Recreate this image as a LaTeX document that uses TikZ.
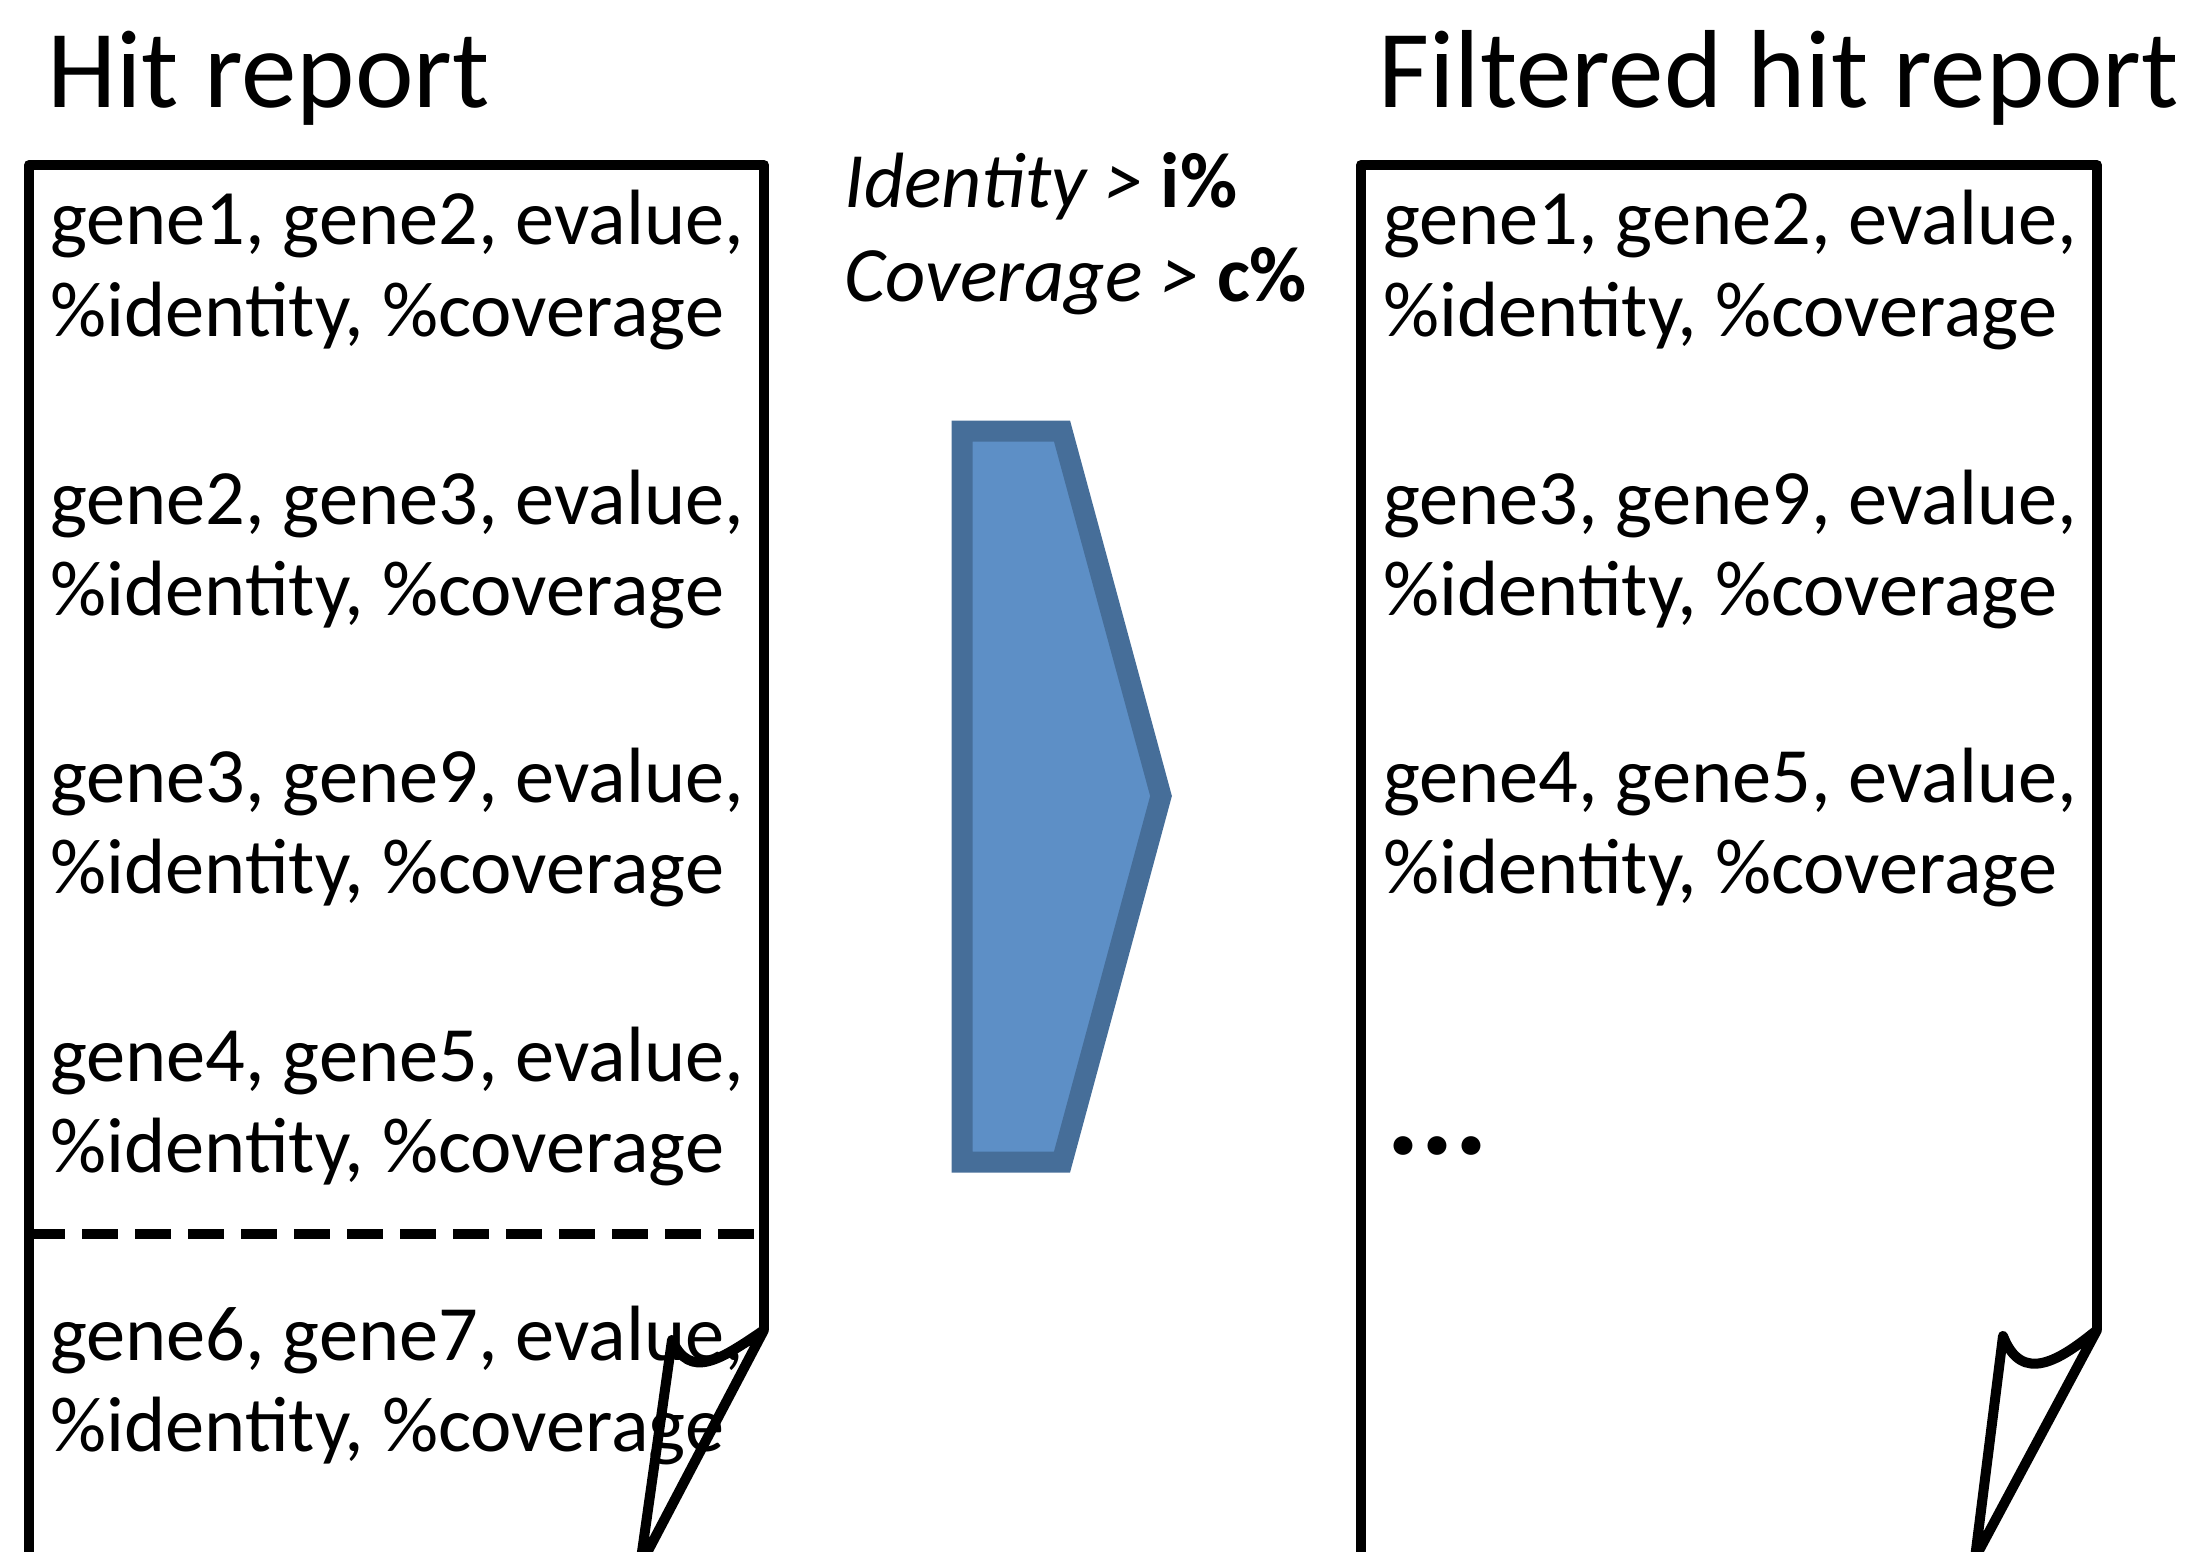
\documentclass[tikz,border=0pt]{standalone}
\usepackage{fontspec}
\setmainfont{Carlito}
\definecolor{arrowfill}{HTML}{5D8FC6}
\definecolor{arrowline}{HTML}{466E99}
\begin{document}
\begin{tikzpicture}[x=0.5pt,y=-0.5pt,
  body/.style={anchor=base west, inner sep=0pt, font=\fontsize{39.2}{47}\selectfont},
  titletext/.style={anchor=base west, inner sep=0pt, font=\fontsize{55.5}{66}\selectfont},
  dots/.style={anchor=base west, inner sep=0pt, font=\fontsize{63.5}{76}\selectfont\bfseries},
  page/.style={draw=black, line width=5pt, line join=round},
  sep/.style={draw=black, line width=5pt, dash pattern=on 18pt off 8.5pt},
  chevron/.style={fill=arrowfill, draw=arrowline, line width=10.5pt, line join=miter}
]
\useasboundingbox (0,0) rectangle (2198,1551);
\clip (0,0) rectangle (2198,1551);

% titles
\node[titletext] (t1) at (47,108) {Hit report};
\node[titletext] (t2) at (1378,108) {Filtered hit report};

% filter conditions
\node[body] (f1) at (844,208) {\textit{Identity >} \textbf{i\%}};
\node[body] (f2) at (844,302) {\textit{Coverage >} \textbf{c\%}};

% left page text
\node[body] (l1a) at (50,245) {gene1, gene2, evalue,};
\node[body] (l1b) at (50,336) {\%identity, \%coverage};
\node[body] (l2a) at (50,524) {gene2, gene3, evalue,};
\node[body] (l2b) at (50,615) {\%identity, \%coverage};
\node[body] (l3a) at (50,802) {gene3, gene9, evalue,};
\node[body] (l3b) at (50,893) {\%identity, \%coverage};
\node[body] (l4a) at (50,1081) {gene4, gene5, evalue,};
\node[body] (l4b) at (50,1172) {\%identity, \%coverage};
\node[body] (l5a) at (50,1360) {gene6, gene7, evalue,};
\node[body] (l5b) at (50,1451) {\%identity, \%coverage};

% right page text
\node[body] (r1a) at (1383,245) {gene1, gene2, evalue,};
\node[body] (r1b) at (1383,336) {\%identity, \%coverage};
\node[body] (r2a) at (1383,524) {gene3, gene9, evalue,};
\node[body] (r2b) at (1383,615) {\%identity, \%coverage};
\node[body] (r3a) at (1383,802) {gene4, gene5, evalue,};
\node[body] (r3b) at (1383,893) {\%identity, \%coverage};
\node[dots] (rdots) at (1386,1154) {...};

% left page outline with curled corner
\draw[page] (29,1600) -- (29,165) -- (764,165) -- (764,1330);
\draw[page] (764,1330) .. controls (720,1360) and (690,1380) .. (672,1340)
  -- (640,1566) -- cycle;
\draw[sep] (29,1234) -- (764,1234);

% right page outline with curled corner
\draw[page] (1361,1600) -- (1361,165) -- (2097,165) -- (2097,1330);
\draw[page] (2097,1330) .. controls (2060,1360) and (2022,1385) .. (2003,1336)
  -- (1975,1558) -- cycle;

% chevron arrow
\draw[chevron] (962,431) -- (1062,431) -- (1161,796) -- (1062,1162) -- (962,1162) -- cycle;
\end{tikzpicture}
\end{document}
